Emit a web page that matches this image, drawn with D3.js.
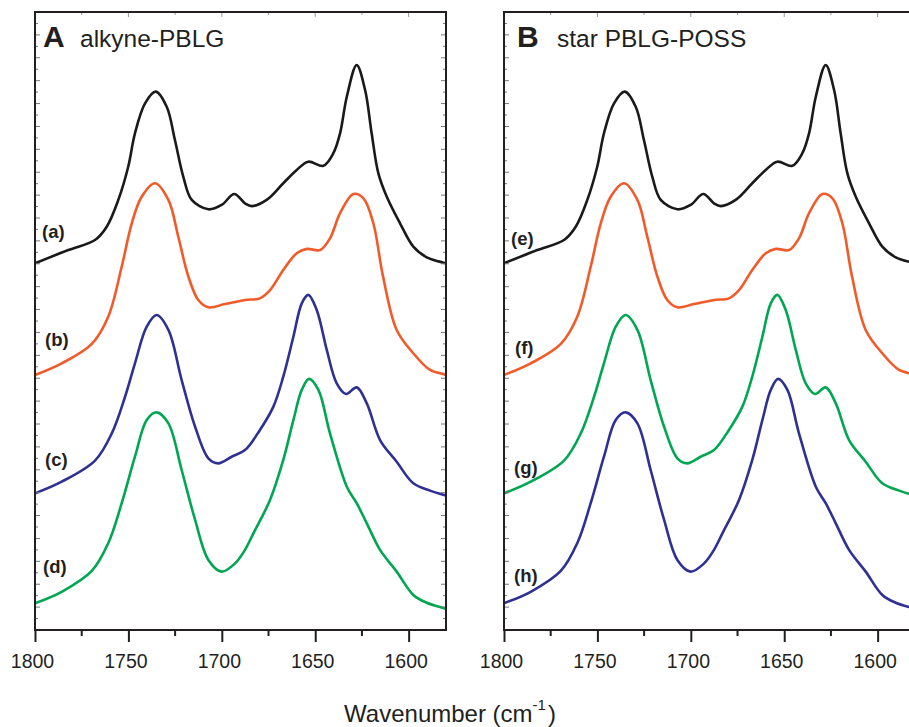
<!DOCTYPE html>
<html>
<head>
<meta charset="utf-8">
<script src="https://cdn.jsdelivr.net/npm/d3@7/dist/d3.min.js"></script>
<style>
  body { margin: 0; background: #fff; }
  svg { display: block; font-family: Arial, "Liberation Sans", sans-serif; }
</style>
</head>
<body>
<svg id="chart" width="909" height="727"></svg>
<script>
// spectra: [wavenumber, absorbance (a.u., stacked)]
const curveA = [[1800,16.02],[1782.2,16.60],[1767.9,17.04],[1761.6,17.62],[1755.4,18.79],[1750.1,20.24],[1746.5,21.70],[1741.1,23.01],[1735.4,23.52],[1729.5,22.86],[1725.1,21.41],[1720.6,19.80],[1716.1,18.79],[1707.2,18.38],[1700.1,18.57],[1693.3,19.05],[1687.6,18.64],[1684.0,18.52],[1676.0,18.79],[1667.1,19.52],[1659.9,20.10],[1653.7,20.46],[1645.7,20.28],[1640.3,20.83],[1636.7,21.70],[1633.1,23.30],[1627.8,24.68],[1623.3,23.59],[1619.8,21.70],[1616.2,19.95],[1611.7,18.93],[1604.6,17.77],[1597.5,16.75],[1590.3,16.28],[1581.4,16.05],[1580,16.02]];
const curveB = [[1800,11.14],[1785.7,11.65],[1769.6,12.50],[1760.8,13.69],[1753.6,15.87],[1748.2,17.77],[1742.9,18.93],[1735.8,19.52],[1728.6,18.79],[1723.3,17.18],[1717.9,15.44],[1712.6,14.42],[1707.2,14.10],[1698.3,14.24],[1687.6,14.42],[1679.6,14.49],[1674.2,14.85],[1667.1,15.73],[1659.9,16.46],[1654.5,16.65],[1647.4,16.60],[1642.1,17.11],[1636.7,18.21],[1629.6,19.05],[1624.2,18.86],[1618.9,17.77],[1613.7,15.44],[1606.4,13.11],[1597.5,12.09],[1588.5,11.36],[1581.4,11.18],[1580,11.14]];
const curveC = [[1800,5.97],[1785.7,6.48],[1767.9,7.40],[1758.9,8.59],[1751.8,10.19],[1746.5,11.65],[1740.2,13.25],[1734.9,13.76],[1728.6,13.11],[1721.5,10.92],[1714.3,8.88],[1707.2,7.50],[1701.9,7.28],[1694.7,7.57],[1687.6,7.86],[1679.6,8.74],[1672.4,9.76],[1667.1,11.07],[1661.7,12.81],[1657.2,14.27],[1653.7,14.64],[1649.2,13.98],[1643.8,12.23],[1638.5,10.78],[1633.5,10.31],[1627.8,10.60],[1622.4,9.90],[1615.3,8.30],[1606.4,7.35],[1597.5,6.41],[1588.5,6.09],[1581.0,5.90],[1580,5.88]];
const curveD = [[1800,1.17],[1785.7,1.67],[1769.6,2.58],[1760.8,3.79],[1753.6,5.54],[1746.5,7.57],[1740.2,9.17],[1734.9,9.51],[1728.6,9.03],[1721.5,6.99],[1714.3,4.81],[1707.2,3.06],[1700.1,2.55],[1692.9,2.91],[1687.6,3.50],[1683.1,4.22],[1674.2,5.68],[1667.1,7.43],[1661.7,9.17],[1657.2,10.49],[1653.3,10.97],[1648.3,10.49],[1642.1,8.59],[1633.1,6.26],[1627.8,5.54],[1622.4,4.66],[1615.3,3.50],[1606.4,2.55],[1597.5,1.53],[1590.3,1.19],[1581.0,0.95],[1580,0.92]];

const xMajorTicks = [1800, 1750, 1700, 1650, 1600];
const xMinorTicks = [1775, 1725, 1675, 1625];

const panelA = [
  { label: "(a)", data: curveA, color: "#1a1a1a", lx: 42, ly: 238 },
  { label: "(b)", data: curveB, color: "#f15a29", lx: 45, ly: 346 },
  { label: "(c)", data: curveC, color: "#2e3192", lx: 45, ly: 466 },
  { label: "(d)", data: curveD, color: "#00a651", lx: 43, ly: 573 }
];
// star PBLG-POSS: same band shapes, green/blue swapped
const panelB = [
  { label: "(e)", data: curveA, color: "#1a1a1a", lx: 42, ly: 245 },
  { label: "(f)", data: curveB, color: "#f15a29", lx: 46, ly: 354 },
  { label: "(g)", data: curveC, color: "#00a651", lx: 45, ly: 474 },
  { label: "(h)", data: curveD, color: "#2e3192", lx: 45, ly: 582 }
];

const svg = d3.select("#chart");
const plotTop = 12, plotBottom = 630, panelW = 411;

const y = d3.scaleLinear().domain([0, 27]).range([plotBottom, plotTop]);

function drawPanel(left, letter, title, letterDx, titleDx, series) {
  const x = d3.scaleLinear().domain([1800, 1580]).range([left, left + panelW]);
  const g = svg.append("g");

  // curves
  const line = d3.line()
    .x(d => x(d[0]))
    .y(d => y(d[1]))
    .curve(d3.curveCatmullRom.alpha(0.5));

  series.forEach(s => {
    g.append("path")
      .datum(s.data)
      .attr("d", line)
      .attr("fill", "none")
      .attr("stroke", s.color)
      .attr("stroke-width", 2.6)
      .attr("stroke-linejoin", "round");
    g.append("text")
      .attr("x", x(1800) + s.lx - 35)
      .attr("y", s.ly)
      .attr("font-size", 18.5)
      .attr("font-weight", "bold")
      .attr("fill", "#231f20")
      .text(s.label);
  });

  // faint inner ticks on left/right/top
  const yMinor = d3.range(0.5, 27, 0.5);
  g.selectAll(".ly").data(yMinor).join("line")
    .attr("x1", left).attr("x2", d => left + (d % 1 === 0 ? 5 : 3))
    .attr("y1", d => y(d)).attr("y2", d => y(d))
    .attr("stroke", "#777").attr("stroke-width", 1);
  g.selectAll(".ry").data(yMinor).join("line")
    .attr("x1", left + panelW).attr("x2", d => left + panelW - (d % 1 === 0 ? 5 : 3))
    .attr("y1", d => y(d)).attr("y2", d => y(d))
    .attr("stroke", "#777").attr("stroke-width", 1);
  g.selectAll(".tx").data(xMajorTicks.concat(xMinorTicks)).join("line")
    .attr("x1", d => x(d)).attr("x2", d => x(d))
    .attr("y1", plotTop).attr("y2", d => plotTop + (xMajorTicks.includes(d) ? 5 : 3))
    .attr("stroke", "#999").attr("stroke-width", 1);

  // frame
  g.append("rect")
    .attr("x", left).attr("y", plotTop)
    .attr("width", panelW).attr("height", plotBottom - plotTop)
    .attr("fill", "none")
    .attr("stroke", "#231f20")
    .attr("stroke-width", 2);

  // bottom axis
  const axis = g.append("g")
    .attr("transform", `translate(0,${plotBottom})`)
    .call(d3.axisBottom(x).tickValues(xMajorTicks).tickSize(12).tickPadding(12).tickFormat(d3.format("d")));
  axis.select(".domain").remove();
  axis.selectAll(".tick line").attr("stroke", "#231f20").attr("stroke-width", 2);
  axis.selectAll(".tick text").attr("font-size", 19.5).attr("fill", "#231f20")
    .attr("dx", -3)
    .attr("font-family", "Arial, 'Liberation Sans', sans-serif");

  g.selectAll(".minor").data(xMinorTicks).join("line")
    .attr("x1", d => x(d)).attr("x2", d => x(d))
    .attr("y1", plotBottom).attr("y2", plotBottom + 6)
    .attr("stroke", "#231f20").attr("stroke-width", 2);

  // panel title
  g.append("text")
    .attr("x", left + letterDx).attr("y", 47)
    .attr("font-size", 30).attr("font-weight", "bold").attr("fill", "#231f20")
    .text(letter);
  g.append("text")
    .attr("x", left + titleDx).attr("y", 47)
    .attr("font-size", 24.5).attr("fill", "#231f20")
    .text(title);
}

drawPanel(35, "A", "alkyne-PBLG", 8, 45, panelA);
drawPanel(504, "B", "star PBLG-POSS", 13, 53, panelB);

// x axis title
const xt = svg.append("text")
  .attr("x", 450)
  .attr("y", 722)
  .attr("text-anchor", "middle")
  .attr("font-size", 24)
  .attr("fill", "#231f20");
xt.append("tspan").text("Wavenumber (cm");
xt.append("tspan").attr("font-size", 15).attr("dy", -12).text("-1");
xt.append("tspan").attr("dy", 12).attr("dx", 2).text(")");
</script>
</body>
</html>
